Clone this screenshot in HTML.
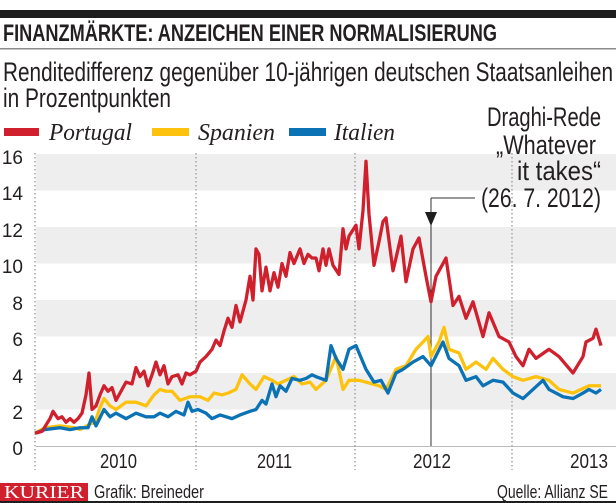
<!DOCTYPE html>
<html><head><meta charset="utf-8"><style>
html,body{margin:0;padding:0;background:#fff;}
svg{display:block;}
text{font-family:"Liberation Sans Narrow","Liberation Sans",sans-serif;fill:#231f20;}
</style></head><body>
<svg width="616" height="503" viewBox="0 0 616 503" xmlns="http://www.w3.org/2000/svg">
<rect x="0" y="10" width="616" height="8" fill="#1e1e1e"/>
<text x="3" y="41" font-size="24" font-weight="bold" textLength="494" lengthAdjust="spacingAndGlyphs">FINANZMÄRKTE: ANZEICHEN EINER NORMALISIERUNG</text>
<rect x="0" y="48" width="616" height="1.5" fill="#8a8a8a"/>
<text x="3" y="81" font-size="27" textLength="610" lengthAdjust="spacingAndGlyphs">Renditedifferenz gegenüber 10-jährigen deutschen Staatsanleihen</text>
<text x="3" y="107" font-size="27" textLength="168" lengthAdjust="spacingAndGlyphs">in Prozentpunkten</text>
<!-- legend -->
<rect x="4" y="128" width="35" height="8" fill="#d0202d"/>
<text x="49" y="140" font-size="24" font-style="italic" style="font-family:'Liberation Serif',serif" textLength="83" lengthAdjust="spacingAndGlyphs">Portugal</text>
<rect x="152" y="128" width="37" height="8" fill="#fdc20e"/>
<text x="198" y="140" font-size="24" font-style="italic" style="font-family:'Liberation Serif',serif" textLength="77" lengthAdjust="spacingAndGlyphs">Spanien</text>
<rect x="289" y="128" width="37" height="8" fill="#0a72b5"/>
<text x="334" y="140" font-size="24" font-style="italic" style="font-family:'Liberation Serif',serif" textLength="61" lengthAdjust="spacingAndGlyphs">Italien</text>
<!-- bands -->
<g fill="#efeeee">
<rect x="36" y="154" width="580" height="36.5"/>
<rect x="36" y="227" width="580" height="36.5"/>
<rect x="36" y="300" width="580" height="36.5"/>
<rect x="36" y="373" width="580" height="36.5"/>
</g>
<line x1="36" y1="446.5" x2="616" y2="446.5" stroke="#bbb" stroke-width="1"/>
<g stroke="#999" stroke-width="1.3" stroke-dasharray="1.5,2.5">
<line x1="35" y1="153" x2="35" y2="470"/>
<line x1="196" y1="153" x2="196" y2="470"/>
<line x1="355" y1="153" x2="355" y2="470"/>
<line x1="512" y1="153" x2="512" y2="470"/>
</g>
<g font-size="19" text-anchor="end">
<text x="23" y="164">16</text><text x="23" y="200">14</text><text x="23" y="237">12</text>
<text x="23" y="273">10</text><text x="23" y="310">8</text><text x="23" y="346">6</text>
<text x="23" y="383">4</text><text x="23" y="419">2</text><text x="23" y="455">0</text>
</g>
<g font-size="20">
<text x="100" y="468" textLength="37" lengthAdjust="spacingAndGlyphs">2010</text><text x="257" y="468" textLength="35" lengthAdjust="spacingAndGlyphs">2011</text><text x="413" y="468" textLength="38" lengthAdjust="spacingAndGlyphs">2012</text><text x="570" y="468" textLength="38" lengthAdjust="spacingAndGlyphs">2013</text>
</g>
<!-- annotation -->
<line x1="431" y1="198" x2="431" y2="446" stroke="#333" stroke-width="1"/>
<line x1="431" y1="198" x2="475" y2="198" stroke="#333" stroke-width="1"/>
<polygon points="425,212 437,212 431,226" fill="#1e1e1e"/>
<g font-size="27">
<text x="487" y="126" textLength="114" lengthAdjust="spacingAndGlyphs">Draghi-Rede</text>
<text x="496" y="154" textLength="100" lengthAdjust="spacingAndGlyphs">„Whatever</text>
<text x="517" y="180" textLength="84" lengthAdjust="spacingAndGlyphs">it takes“</text>
<text x="481" y="207" textLength="120" lengthAdjust="spacingAndGlyphs">(26. 7. 2012)</text>
</g>
<!-- series -->
<g transform="translate(0,446) scale(1,-18.25)" fill="none" stroke-width="3.3" stroke-linejoin="round">
<polyline vector-effect="non-scaling-stroke" stroke="#fdc20e" points="35,0.7 45,1.0 60,1.1 75,1.0 80,0.9 90,1.2 95,1.3 100,2.1 104,2.6 110,2.2 116,2.0 126,2.4 136,2.4 146,2.2 154,2.8 160,3.1 166,3.0 172,3.0 180,2.5 190,2.7 200,2.7 208,2.5 214,2.9 222,2.8 228,2.9 236,3.1 242,3.9 250,3.4 256,3.1 264,3.8 272,3.6 278,3.4 286,3.6 294,3.8 302,3.4 310,3.5 316,3.1 326,3.6 336,4.9 343,3.1 349,3.6 359,3.6 366,3.5 379,3.3 386,3.1 396,4.2 406,4.4 416,5.3 423,5.7 428,6.0 431,4.9 439,5.7 444,6.5 449,5.3 459,5.1 466,4.2 476,4.6 486,4.2 493,4.8 503,4.2 513,3.8 523,3.6 536,3.8 549,3.6 559,3.1 573,2.9 589,3.3 601,3.3"/>
<polyline vector-effect="non-scaling-stroke" stroke="#0a72b5" points="35,0.7 45,0.9 60,1.0 70,0.9 80,1.0 88,1.0 92,1.6 96,1.1 104,2.0 110,1.6 116,1.8 126,1.5 136,1.8 146,1.6 154,1.6 160,1.8 168,1.6 176,1.9 184,1.7 188,2.4 192,1.9 198,2.0 206,1.8 212,1.5 220,1.7 232,1.5 240,1.7 250,1.9 256,2.0 262,2.5 266,2.3 272,3.4 276,2.7 280,3.3 286,3.0 292,3.7 300,3.6 306,3.7 312,3.9 316,3.8 326,3.6 331,5.5 336,4.8 343,4.2 349,5.3 356,5.5 366,4.2 374,3.5 381,3.6 388,2.9 396,4.0 403,4.2 413,4.6 423,4.9 431,4.4 443,5.7 449,4.8 459,4.4 466,3.6 476,3.8 483,3.3 493,3.6 503,3.5 513,2.9 523,2.6 533,3.1 543,3.6 549,3.1 563,2.7 573,2.6 583,2.9 589,3.1 596,2.9 601,3.1"/>
<polyline vector-effect="non-scaling-stroke" stroke="#d0202d" points="35,0.7 42,0.8 50,1.5 53,1.9 58,1.5 62,1.6 66,1.3 70,1.5 74,1.3 78,1.5 82,1.8 86,2.8 89,4.0 92,2.0 96,2.2 100,2.8 104,3.3 108,3.0 112,3.2 116,2.5 120,2.9 126,3.5 132,3.4 136,4.3 140,3.8 144,4.1 148,3.3 152,3.9 156,4.6 160,3.9 164,4.4 168,3.4 172,3.8 178,3.9 182,3.4 186,4.0 190,3.9 196,4.1 200,4.6 206,4.9 212,5.3 216,5.8 220,5.5 224,6.3 228,7.0 232,6.5 236,7.7 240,6.8 246,8.0 250,9.3 253,8.0 256,10.8 259,10.5 262,8.5 266,9.8 270,8.5 274,9.5 278,8.7 282,10.0 286,9.3 290,10.6 294,10.0 300,10.8 304,10.0 308,10.5 312,10.3 316,10.3 319,9.6 323,10.8 326,9.9 329,10.8 333,9.9 339,9.4 343,11.9 346,10.8 349,11.5 356,12.1 359,10.8 363,12.9 366,15.6 369,12.7 374,9.9 379,11.2 383,12.3 386,12.5 393,9.6 396,10.3 401,11.5 406,9.0 413,10.8 419,11.4 426,9.3 431,7.9 436,9.3 446,10.3 453,7.7 459,8.2 466,7.0 473,7.9 483,6.0 489,7.3 499,6.0 509,5.7 516,4.9 523,4.4 529,5.3 536,4.8 549,5.3 559,4.9 573,4.0 583,4.9 586,5.7 593,5.9 596,6.4 601,5.5"/>
</g>
<!-- footer -->
<rect x="0" y="483" width="88" height="18" fill="#d0202d"/>
<text x="4" y="498" font-size="18" style="font-family:'Liberation Serif',serif;fill:#fff" textLength="80" lengthAdjust="spacingAndGlyphs">KURIER</text>
<text x="94" y="498" font-size="18" textLength="110" lengthAdjust="spacingAndGlyphs">Grafik: Breineder</text>
<text x="497" y="498" font-size="18" textLength="111" lengthAdjust="spacingAndGlyphs">Quelle: Allianz SE</text>
<rect x="0" y="501" width="616" height="2" fill="#1e1e1e"/>
</svg>
</body></html>
